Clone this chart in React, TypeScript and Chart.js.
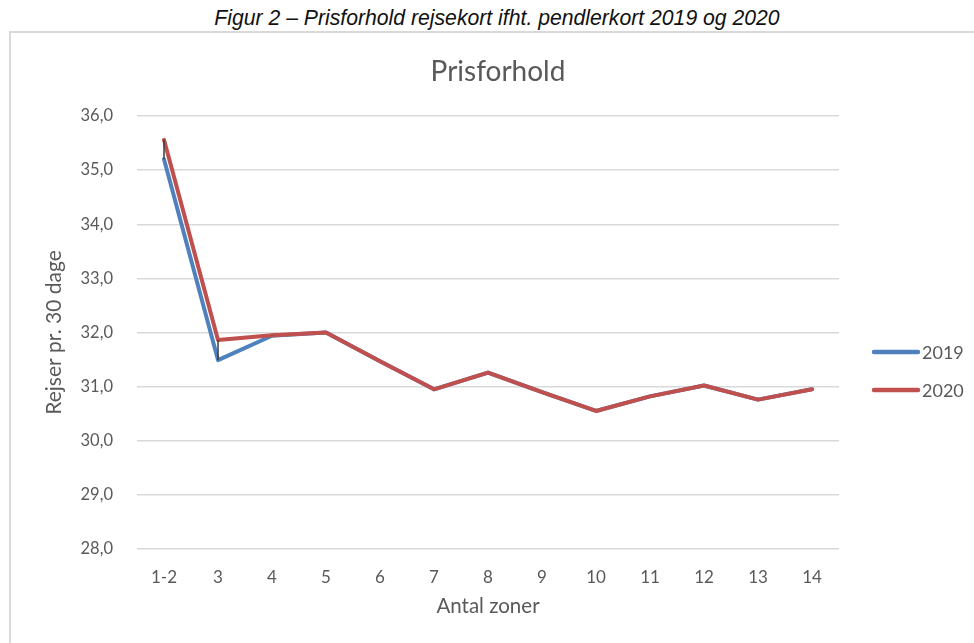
import React, { useEffect, useRef } from 'react';
import { Chart, registerables, layouts } from 'chart.js';

Chart.register(...registerables);

const categories = ['1-2', '3', '4', '5', '6', '7', '8', '9', '10', '11', '12', '13', '14'];
const series2019 = [35.2, 31.49, 31.94, 32.0, 31.47, 30.95, 31.26, 30.9, 30.55, 30.82, 31.02, 30.76, 30.95];
const series2020 = [35.56, 31.86, 31.95, 32.0, 31.47, 30.95, 31.26, 30.9, 30.55, 30.82, 31.02, 30.76, 30.95];
const seriesLabels = ['2019', '2020'];
const yMin = 28;
const yMax = 36;
const yStep = 1;

const GRAY = '#595959';

const highLowPlugin = {
  id: 'highLowLines',
  afterDatasetsDraw(chart: any) {
    const a = chart.getDatasetMeta(0).data;
    const b = chart.getDatasetMeta(1).data;
    const ctx = chart.ctx;
    ctx.save();
    ctx.strokeStyle = '#3a3a3a';
    ctx.lineWidth = 1.5;
    a.forEach((p: any, i: number) => {
      const q = b[i];
      if (!q || Math.abs(p.y - q.y) < 0.5) return;
      ctx.beginPath();
      ctx.moveTo(p.x, p.y);
      ctx.lineTo(q.x, q.y);
      ctx.stroke();
    });
    ctx.restore();
  },
};

const sideLegendPlugin = {
  id: 'sideLegend',
  beforeInit(chart: any) {
    const box: any = {
      position: 'right',
      weight: 0,
      fullSize: false,
      options: {},
      left: 0, top: 0, right: 0, bottom: 0, width: 0, height: 0,
      update(_mw: number, mh: number) {
        box.width = 146;
        box.height = mh;
      },
      isHorizontal() { return false; },
      getPadding() { return { left: 0, top: 0, right: 0, bottom: 0 }; },
      draw() {
        const { ctx, chartArea } = chart;
        const x0 = box.left + 33;
        let y = chartArea.top + 236;
        ctx.save();
        chart.data.datasets.forEach((ds: any) => {
          ctx.strokeStyle = ds.borderColor;
          ctx.lineWidth = 4.5;
          ctx.lineCap = 'round';
          ctx.beginPath();
          ctx.moveTo(x0 + 2, y);
          ctx.lineTo(x0 + 46, y);
          ctx.stroke();
          ctx.fillStyle = GRAY;
          ctx.font = '18px Lato';
          ctx.textBaseline = 'middle';
          ctx.textAlign = 'left';
          ctx.fillText(ds.label, x0 + 50, y + 1);
          y += 38;
        });
        ctx.restore();
      },
    };
    layouts.addBox(chart, box);
  },
};

export default function App() {
  const ref = useRef<HTMLCanvasElement>(null);

  useEffect(() => {
    if (!ref.current) return;
    const chart = new Chart(ref.current, {
      type: 'line',
      data: {
        labels: categories,
        datasets: [
          {
            label: seriesLabels[0],
            data: series2019,
            borderColor: '#4F81BD',
            backgroundColor: '#4F81BD',
            borderWidth: 4,
            pointRadius: 0,
            borderCapStyle: 'round',
            borderJoinStyle: 'round',
            tension: 0,
            order: 1,
          },
          {
            label: seriesLabels[1],
            data: series2020,
            borderColor: '#C0504D',
            backgroundColor: '#C0504D',
            borderWidth: 4,
            pointRadius: 0,
            borderCapStyle: 'round',
            borderJoinStyle: 'round',
            tension: 0,
            order: 0,
          },
        ],
      },
      options: {
        responsive: false,
        animation: false,
        layout: { padding: 0 },
        plugins: {
          legend: { display: false },
          tooltip: { enabled: false },
          title: {
            display: true,
            text: 'Prisforhold',
            color: GRAY,
            font: { family: 'Lato', size: 28, weight: 'normal' },
            padding: { top: 22, bottom: 27.4 },
          },
        },
        scales: {
          x: {
            type: 'category',
            offset: true,
            grid: { display: false },
            border: { display: false },
            ticks: { color: GRAY, font: { family: 'Lato', size: 17 }, padding: 10, maxRotation: 0, autoSkip: false },
            title: {
              display: true,
              text: 'Antal zoner',
              color: GRAY,
              font: { family: 'Lato', size: 20.5 },
              padding: { top: 0, bottom: 24 },
            },
            afterFit: (s: any) => { s.height = 94; },
          },
          y: {
            min: yMin,
            max: yMax,
            grid: { color: '#d9d9d9', lineWidth: 1.5, drawTicks: false },
            border: { display: false },
            ticks: {
              stepSize: yStep,
              color: GRAY,
              font: { family: 'Lato', size: 16.5 },
              padding: 24,
              callback: (v: any) => Number(v).toFixed(1).replace('.', ','),
            },
            title: {
              display: true,
              text: 'Rejser pr. 30 dage',
              color: GRAY,
              font: { family: 'Lato', size: 21 },
              padding: { top: 31, bottom: 0 },
            },
            afterFit: (s: any) => { s.width = 126; },
          },
        },
      },
      plugins: [highLowPlugin, sideLegendPlugin],
    });
    return () => chart.destroy();
  }, []);

  return (
    <div style={{ position: 'fixed', left: 0, top: 0, width: 974, height: 643, overflow: 'hidden', background: '#fff' }}>
      <div
        style={{
          position: 'absolute',
          left: 10,
          top: 6,
          width: 974,
          textAlign: 'center',
          fontFamily: '"Liberation Sans", Arial, sans-serif',
          fontStyle: 'italic',
          fontSize: 21.2,
          lineHeight: 'normal',
          color: '#111',
          whiteSpace: 'nowrap',
        }}
      >
        Figur 2 – Prisforhold rejsekort ifht. pendlerkort 2019 og 2020
      </div>
      <div
        style={{
          position: 'absolute',
          left: 9,
          top: 31,
          width: 990,
          height: 640,
          border: '2px solid #d9d9d9',
          boxSizing: 'border-box',
        }}
      />
      <canvas
        ref={ref}
        width={974}
        height={610}
        style={{ position: 'absolute', left: 11, top: 33, width: 974, height: 610 }}
      />
    </div>
  );
}
